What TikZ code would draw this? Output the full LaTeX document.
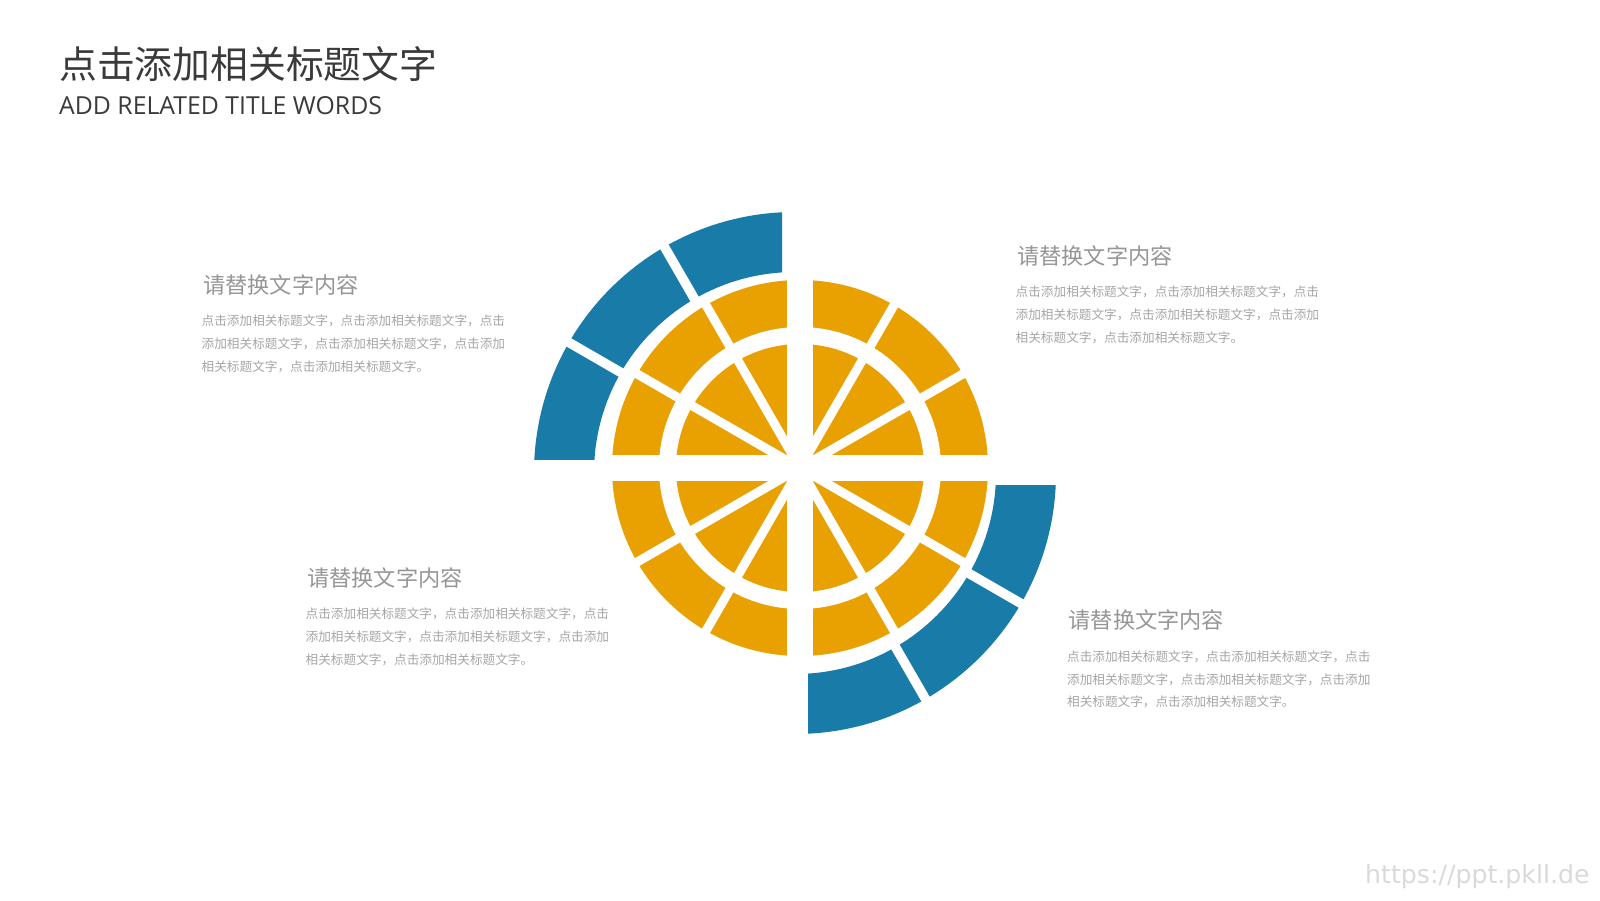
\documentclass[tikz,border=0pt]{standalone}
\usepackage{fontspec}
\newfontfamily\cjk{Noto Sans CJK SC}
\newfontfamily\latinsans{Open Sans}
\newfontfamily\wmfont{DejaVu Sans}
\definecolor{yel}{RGB}{232,161,0}
\definecolor{blu}{RGB}{25,123,168}
\definecolor{titlegray}{RGB}{58,58,58}
\definecolor{headgray}{RGB}{150,150,150}
\definecolor{bodygray}{RGB}{166,166,166}
\definecolor{wmgray}{RGB}{218,218,218}
\tikzset{
  hdtext/.style={anchor=west, inner sep=0pt, text=headgray, font=\cjk\fontsize{22.2}{26}\selectfont},
  bdtext/.style={anchor=west, inner sep=0pt, text=bodygray, font=\cjk\fontsize{12.64}{15}\selectfont},
  cutline/.style={white, line width=9pt},
  bcutline/.style={white, line width=9.5pt}
}
\newcommand{\infoblock}[3]{%
  \node[hdtext] (#1h) at (#2, #3) {请替换文字内容};
  \node[bdtext] (#1a) at (#2-1.5, #3-36.2) {点击添加相关标题文字，点击添加相关标题文字，点击};
  \node[bdtext] (#1b) at (#2-1.5, #3-59.0) {添加相关标题文字，点击添加相关标题文字，点击添加};
  \node[bdtext] (#1c) at (#2-1.5, #3-81.8) {相关标题文字，点击添加相关标题文字。};
}
\begin{document}
\begin{tikzpicture}[x=1pt, y=1pt]
\useasboundingbox[fill=white] (0,0) rectangle (1600,900);

% title
\node[anchor=west, inner sep=0pt, text=titlegray, font=\cjk\fontsize{37.8}{42}\selectfont] (title) at (59, 835.5) {点击添加相关标题文字};
\node[anchor=base west, inner sep=0pt, text=titlegray, font=\latinsans\fontsize{24.8}{28}\selectfont] (subtitle) at (59, 785.3) {ADD RELATED TITLE WORDS};

% centres
\coordinate (yc) at (800, 432);
\coordinate (bc) at (795, 427);

% yellow wheel
\fill[yel] (yc) circle (188);
\fill[white] (yc) circle (141);
\fill[yel] (yc) circle (124);
\foreach \a in {30,60,120,150,210,240,300,330}
  \draw[cutline] (yc) -- ++(\a:194);
\fill[white] (800-194, 432-12.8) rectangle (800+194, 432+12.8);
\fill[white] (800-12.8, 432-194) rectangle (800+12.8, 432+194);

% blue arcs
\begin{scope}
  \clip (0,440) rectangle (782,900);
  \fill[blu, even odd rule] (bc) circle (261) (bc) circle (201);
\end{scope}
\begin{scope}
  \clip (808,0) rectangle (1600,414);
  \fill[blu, even odd rule] (bc) circle (261) (bc) circle (201);
\end{scope}
\foreach \a in {120,150,300,330}
  \draw[bcutline] (bc) ++(\a:196) -- ++(\a:72);

% text blocks
\infoblock{tl}{203}{615}
\infoblock{tr}{1017}{644}
\infoblock{bl}{307}{322}
\infoblock{br}{1068.4}{279.5}

% watermark
\node[anchor=west, inner sep=0pt, text=wmgray, font=\wmfont\fontsize{25.2}{28}\selectfont] (wm) at (1365, 23) {https://ppt.pkll.de};
\end{tikzpicture}
\end{document}
